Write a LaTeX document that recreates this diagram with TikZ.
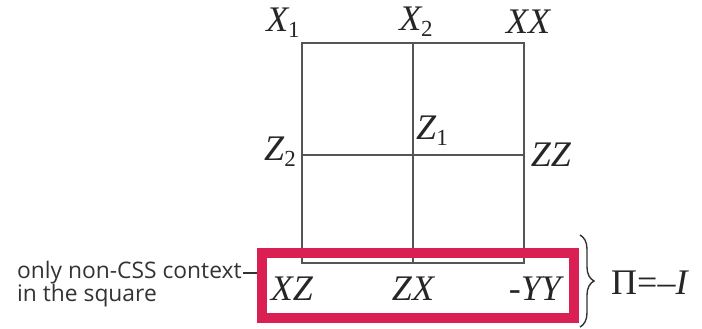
\documentclass[tikz,border=0pt]{standalone}
\usepackage{fontspec}
\setmainfont{Liberation Serif}
\newfontfamily\labelsans{Open Sans}
\usetikzlibrary{decorations.pathreplacing}
\definecolor{gridc}{RGB}{85,85,85}
\definecolor{hired}{RGB}{218,32,82}
\newcommand{\sub}[1]{\raisebox{-0.35ex}{\fontsize{23}{23}\selectfont #1}}
\tikzset{
  gridline/.style={draw=gridc, line width=1.8pt},
  pauli/.style={inner sep=0pt, font=\fontsize{36}{36}\selectfont\itshape, text=black!85},
  redbox/.style={draw=hired, line width=10.5pt},
  note/.style={inner sep=0pt, align=left, font=\fontsize{22.8}{21.5}\selectfont\labelsans, text=black!80}
}
\begin{document}
\begin{tikzpicture}[x=1pt,y=-1pt]
\useasboundingbox (0,0) rectangle (702,329);
% grid corners
\coordinate (tl) at (302,43);
\coordinate (tm) at (413,43);
\coordinate (tr) at (524,43);
\coordinate (ml) at (302,155);
\coordinate (mr) at (524,155);
\coordinate (bl) at (302,263);
\coordinate (bm) at (413,263);
\coordinate (br) at (524,263);
\draw[gridline] (tl) -- (tr) -- (br) -- (bl) -- cycle;
\draw[gridline] (tm) -- (bm);
\draw[gridline] (ml) -- (mr);
% red box
\node[redbox, minimum width=312pt, minimum height=65pt, inner sep=0pt] (box) at (418,285.5) {};
% labels
\node[pauli] (x1) at (283,23) {X\sub{\upshape 1}};
\node[pauli] (x2) at (416,22) {X\sub{\upshape 2}};
\node[pauli] (xx) at (528,22) {XX};
\node[pauli] (z2) at (280,152) {Z\sub{\upshape 2}};
\node[pauli] (z1) at (432,131) {Z\sub{\upshape 1}};
\node[pauli] (zz) at (551,155) {ZZ};
\node[pauli] (xz) at (292,289) {XZ};
\node[pauli] (zx) at (413,289) {ZX};
\node[pauli] (yy) at (535,289) {-YY};
% brace
\coordinate (bt) at (580,235);
\coordinate (bb) at (580,327);
\draw[line width=1.4pt, black!80, decoration={brace, amplitude=14pt, raise=0pt}, decorate] (bt) -- (bb);
\node[inner sep=0pt, anchor=west, font=\fontsize{36}{36}\selectfont, text=black!85] (pi) at (611,283) {Π=\textendash\textit{I}};
% note
\node[note, anchor=west] (note) at (17,284) {only non-CSS context\\in the square};
\coordinate (noteend) at (243,273);
\draw[line width=1.4pt, black!80] (noteend) -- (box.west |- noteend);
\end{tikzpicture}
\end{document}
